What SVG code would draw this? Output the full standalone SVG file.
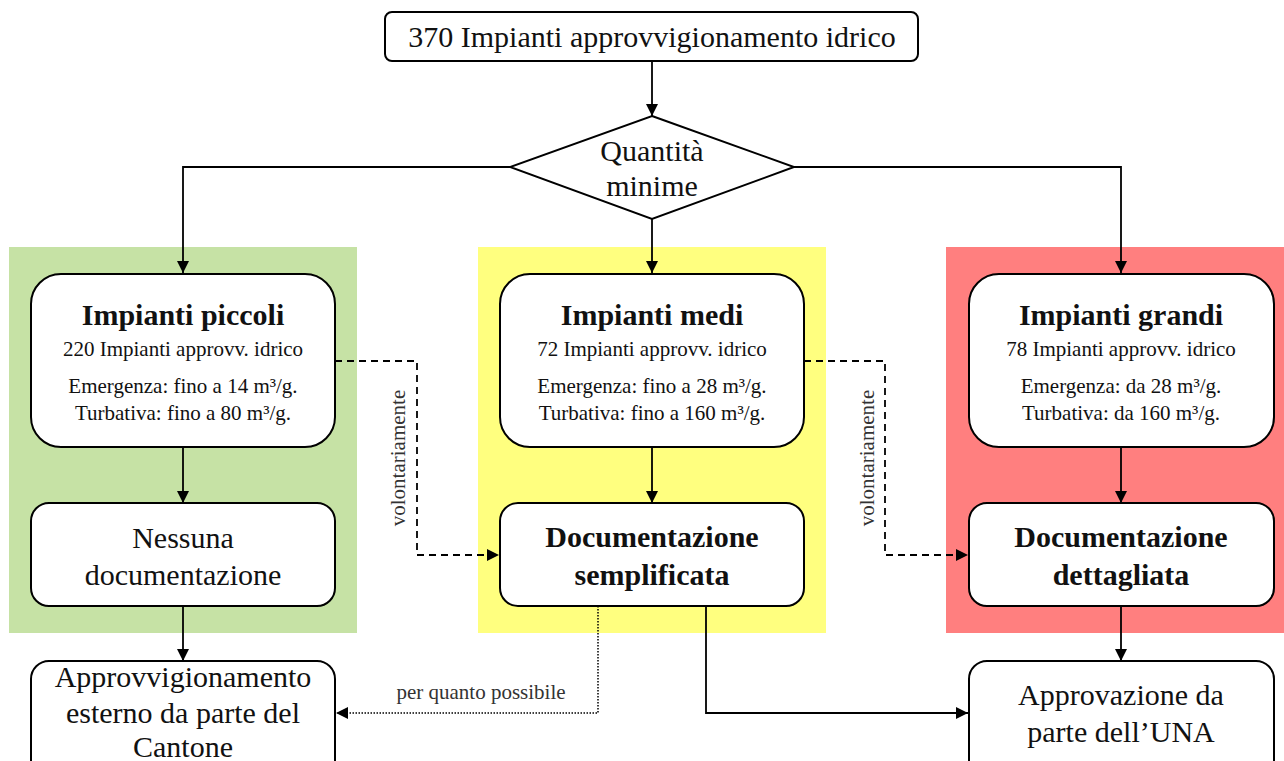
<svg xmlns="http://www.w3.org/2000/svg" width="1284" height="761" viewBox="0 0 1284 761">
<defs>
<marker id="arr" viewBox="0 0 10 10" refX="10" refY="5" markerWidth="12" markerHeight="12" markerUnits="userSpaceOnUse" orient="auto"><path d="M0,0 L10,5 L0,10 z" fill="#000"/></marker>
<style>
.box{fill:#fff;stroke:#000;stroke-width:2}
.ln{fill:none;stroke:#000;stroke-width:1.8}
.dash{fill:none;stroke:#000;stroke-width:1.8;stroke-dasharray:7,5}
.dot{fill:none;stroke:#000;stroke-width:1.5;stroke-dasharray:1.5,1.5}
text{font-family:"Liberation Serif","Times New Roman",serif;fill:#111;text-anchor:middle}
.big{font-size:30px}
.hd{font-size:30px;font-weight:bold}
.sm{font-size:21px}
.lbl{font-size:21px;fill:#333}
</style>
</defs>
<rect x="9" y="247" width="348" height="386" fill="#c6e2a5"/>
<rect x="478" y="247" width="348" height="386" fill="#ffff7f"/>
<rect x="946" y="247" width="338" height="386" fill="#ff7f7f"/>
<g id="connectors">
<path class="ln" d="M652,61 V116" marker-end="url(#arr)"/>
<path class="ln" d="M510,167 H183 V273" marker-end="url(#arr)"/>
<path class="ln" d="M794,167 H1121 V273" marker-end="url(#arr)"/>
<path class="ln" d="M652,219 V273" marker-end="url(#arr)"/>
<path class="ln" d="M183,447 V503" marker-end="url(#arr)"/>
<path class="ln" d="M652,447 V503" marker-end="url(#arr)"/>
<path class="ln" d="M1121,447 V503" marker-end="url(#arr)"/>
<path class="ln" d="M183,606 V661" marker-end="url(#arr)"/>
<path class="ln" d="M1121,606 V661" marker-end="url(#arr)"/>
<path class="dash" d="M335,361 H417 V555 H499" marker-end="url(#arr)"/>
<path class="dash" d="M804,361 H885 V555 H968" marker-end="url(#arr)"/>
<path class="dot" d="M598,606 V713 H336" marker-end="url(#arr)"/>
<path class="ln" d="M706,606 V713 H968" marker-end="url(#arr)"/>
<text class="lbl" transform="translate(405,458) rotate(-90)">volontariamente</text>
<text class="lbl" transform="translate(874,458) rotate(-90)">volontariamente</text>
<text class="lbl" x="481" y="699">per quanto possibile</text>
</g>
<g id="top">
<rect class="box" x="385" y="12" width="533" height="49" rx="7"/>
<text class="big" x="652" y="47">370 Impianti approvvigionamento idrico</text>
</g>
<g id="decision">
<path class="box" d="M652,116 L794,167 L652,219 L510,167 z"/>
<text class="big" x="652" y="161">Quantità</text>
<text class="big" x="652" y="196">minime</text>
</g>
<g id="piccoli">
<rect class="box" x="31" y="274" width="304" height="173" rx="30"/>
<text class="hd" x="183" y="325">Impianti piccoli</text>
<text class="sm" x="183" y="356">220 Impianti approvv. idrico</text>
<text class="sm" x="183" y="393">Emergenza:  fino a 14 m³/g.</text>
<text class="sm" x="183" y="420">Turbativa: fino a 80 m³/g.</text>
</g>
<g id="medi">
<rect class="box" x="500" y="274" width="304" height="173" rx="30"/>
<text class="hd" x="652" y="325">Impianti medi</text>
<text class="sm" x="652" y="356">72 Impianti approvv. idrico</text>
<text class="sm" x="652" y="393">Emergenza:  fino a 28 m³/g.</text>
<text class="sm" x="652" y="420">Turbativa: fino a 160 m³/g.</text>
</g>
<g id="grandi">
<rect class="box" x="969" y="274" width="305" height="173" rx="30"/>
<text class="hd" x="1121" y="325">Impianti grandi</text>
<text class="sm" x="1121" y="356">78 Impianti approvv. idrico</text>
<text class="sm" x="1121" y="393">Emergenza:  da 28 m³/g.</text>
<text class="sm" x="1121" y="420">Turbativa: da 160 m³/g.</text>
</g>
<g id="nessuna">
<rect class="box" x="31" y="503" width="304" height="103" rx="18"/>
<text class="big" x="183" y="548">Nessuna</text>
<text class="big" x="183" y="585">documentazione</text>
</g>
<g id="semplificata">
<rect class="box" x="500" y="503" width="304" height="103" rx="18"/>
<text class="hd" x="652" y="547">Documentazione</text>
<text class="hd" x="652" y="585">semplificata</text>
</g>
<g id="dettagliata">
<rect class="box" x="969" y="503" width="305" height="103" rx="18"/>
<text class="hd" x="1121" y="547">Documentazione</text>
<text class="hd" x="1121" y="585">dettagliata</text>
</g>
<g id="cantone">
<rect class="box" x="31" y="661" width="304" height="120" rx="18"/>
<text class="big" x="183" y="687">Approvvigionamento</text>
<text class="big" x="183" y="723">esterno da parte del</text>
<text class="big" x="183" y="757">Cantone</text>
</g>
<g id="una">
<rect class="box" x="969" y="661" width="305" height="120" rx="18"/>
<text class="big" x="1121" y="705">Approvazione da</text>
<text class="big" x="1121" y="742">parte dell’UNA</text>
</g>
</svg>
